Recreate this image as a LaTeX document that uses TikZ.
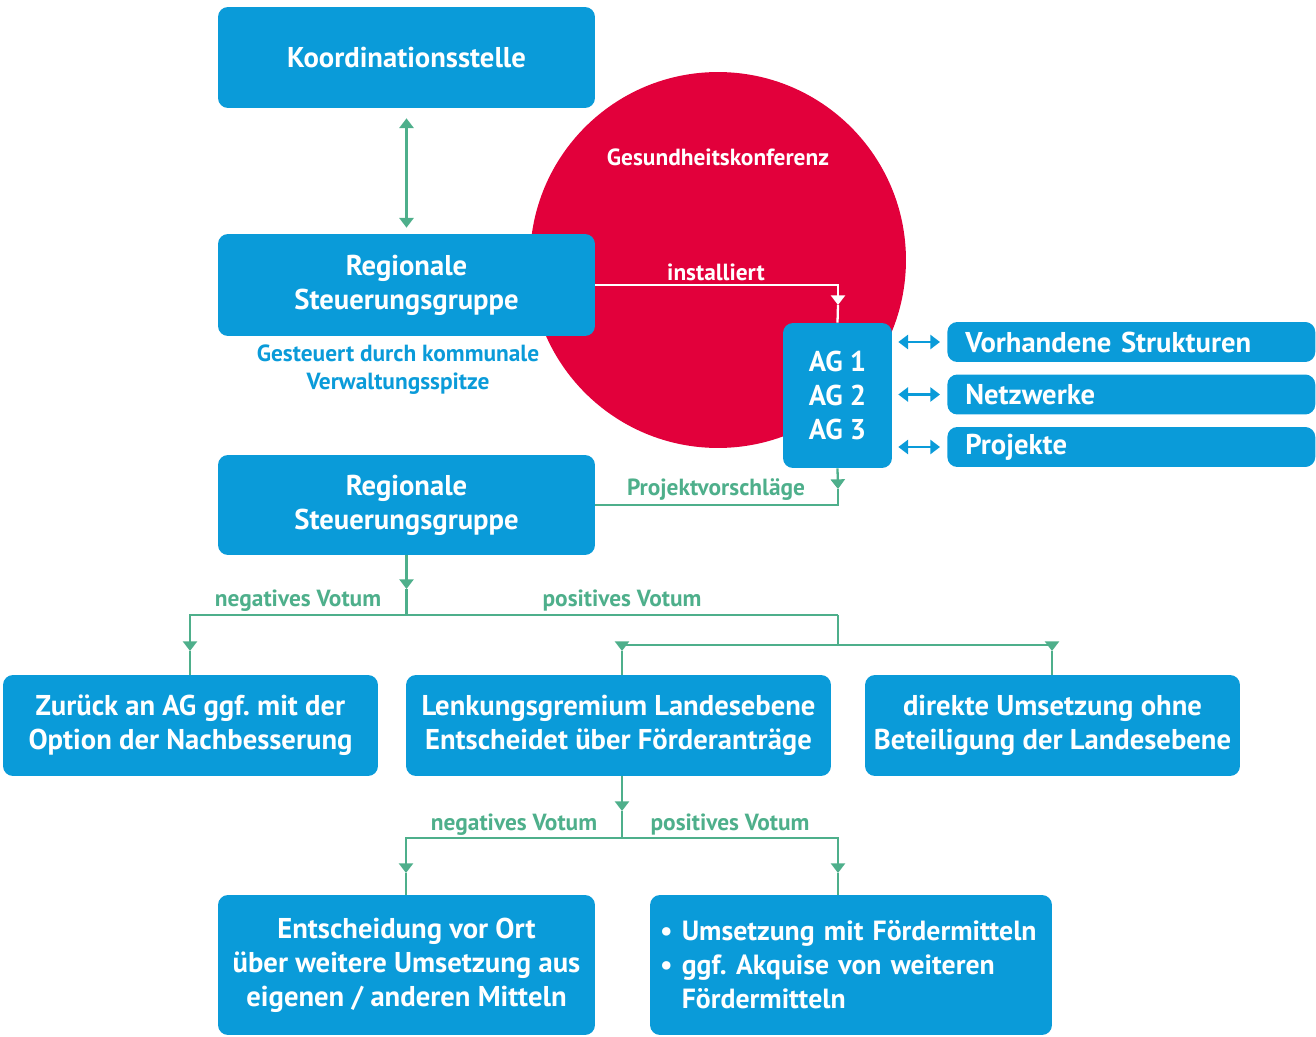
\documentclass[tikz,border=0pt]{standalone}
\usepackage{fontspec}
\setmainfont{PT Sans}
\frenchspacing
\usepackage{xcolor}
\usepackage{tikz}
\usetikzlibrary{arrows.meta, positioning, calc}

\definecolor{boxblue}{HTML}{0A9BD9}
\definecolor{konfred}{HTML}{E2003B}
\definecolor{flowgreen}{HTML}{4EAF8B}

\tikzset{
    box/.style={fill=boxblue, text=white, rounded corners=0.2cm, align=center,
        inner sep=0pt, font=\fontsize{16.3}{19.4}\selectfont\bfseries},
    sidebox/.style={box, anchor=west, align=left, inner xsep=0.36cm,
        text width=6.64cm, minimum height=0.8cm},
    flow/.style={draw=flowgreen, line width=1.3pt},
    tip/.style={-{Triangle[width=8pt, length=5.5pt]}},
    dtip/.style={{Triangle[width=8pt, length=5.5pt]}-{Triangle[width=8pt, length=5.5pt]}},
    lab/.style={text=flowgreen, font=\fontsize{13.3}{15}\selectfont\bfseries}
}

\begin{document}
\begin{tikzpicture}[x=0.02cm, y=-0.02cm]
    \useasboundingbox (0,0) rectangle (1316,1037);

    % Gesundheitskonferenz
    \fill[konfred] (718,260) circle (3.76cm);
    \node[text=white, font=\fontsize{13.3}{15}\selectfont\bfseries] (konf) at (718,157) {Gesundheitskonferenz};

    % obere Boxen
    \node[box, minimum width=7.54cm, minimum height=2.02cm] (koord) at (406.5,57.5) {Koordinationsstelle};
    \node[box, minimum width=7.54cm, minimum height=2.04cm] (rsg1) at (406.5,285) {Regionale\\Steuerungsgruppe};
    \node[text=boxblue, align=center, font=\fontsize{13.3}{15.8}\selectfont\bfseries] (verw) at (398,370)
        {Gesteuert durch kommunale\\Verwaltungsspitze};
    \node[box, minimum width=7.54cm, minimum height=2.0cm] (rsg2) at (406.5,505) {Regionale\\Steuerungsgruppe};

    % Arbeitsgruppen
    \node[box, minimum width=2.18cm, minimum height=2.9cm] (ag) at (837.5,395.5)
        {AG 1\\AG 2\\AG 3};
    \node[sidebox] (vs) at (947,342) {Vorhandene Strukturen};
    \node[sidebox] (nw) at (947,394.5) {Netzwerke};
    \node[sidebox] (pj) at (947,447) {Projekte};

    % Entscheidungen
    \node[box, minimum width=7.5cm, minimum height=2.02cm] (zur) at (190.5,725.5)
        {Zurück an AG ggf. mit der\\Option der Nachbesserung};
    \node[box, minimum width=8.5cm, minimum height=2.02cm] (lenk) at (618.5,725.5)
        {Lenkungsgremium Landesebene\\Entscheidet über Förderanträge};
    \node[box, minimum width=7.5cm, minimum height=2.02cm] (dir) at (1052.5,725.5)
        {direkte Umsetzung ohne\\Beteiligung der Landesebene};
    \node[box, minimum width=7.54cm, minimum height=2.8cm] (ort) at (406.5,965)
        {Entscheidung vor Ort\\über weitere Umsetzung aus\\eigenen / anderen Mitteln};
    \node[box, align=left, inner xsep=0.2cm, text width=7.64cm, minimum height=2.8cm,
        font=\fontsize{15.8}{19.4}\selectfont\bfseries] (mit) at (851,965)
        {\mbox{• Umsetzung mit Fördermitteln}\\\mbox{• ggf. Akquise von weiteren}\\\mbox{\phantom{• }Fördermitteln}};

    % Verbindungen
    \draw[flow, dtip, shorten <=0.2cm, shorten >=0.12cm] (koord.south) -- (rsg1.north);

    \coordinate (t1) at (838,305);
    \draw[draw=white, line width=1.3pt, tip] (rsg1.east) -| (t1);
    \draw[draw=white, line width=1.3pt] (t1) -- (ag.north);
    \node[text=white, font=\fontsize{13.3}{15}\selectfont\bfseries] (inst) at (716,272) {installiert};

    \draw[draw=boxblue, line width=1.3pt, dtip, shorten <=0.12cm, shorten >=0.14cm] (ag.east |- vs.west) -- (vs.west);
    \draw[draw=boxblue, line width=1.3pt, dtip, shorten <=0.12cm, shorten >=0.14cm] (ag.east |- nw.west) -- (nw.west);
    \draw[draw=boxblue, line width=1.3pt, dtip, shorten <=0.12cm, shorten >=0.14cm] (ag.east |- pj.west) -- (pj.west);

    \coordinate (t2) at (838,489);
    \draw[flow, tip] (ag.south) -- (t2);
    \draw[flow] (t2) |- (rsg2.east);
    \node[lab] (pv) at (716,490) {Projektvorschläge};

    % erste Verzweigung
    \coordinate (t3) at (406.5,589);
    \coordinate (s1) at (406.5,615);
    \draw[flow, tip] (rsg2.south) -- (t3);
    \draw[flow] (t3) -- (s1);
    \coordinate (t4) at (190,651);
    \coordinate (s2) at (838,615);
    \draw[flow, tip] (s1) -| (t4);
    \draw[flow] (t4) -- (zur.north -| t4);
    \draw[flow] (s1) -- (s2);
    \node[lab] (neg1) at (298,601) {negatives Votum};
    \node[lab] (pos1) at (622,601) {positives Votum};

    \coordinate (s3) at (838,645);
    \coordinate (t5) at (622,651);
    \coordinate (t6) at (1052,651);
    \draw[flow] (s2) -- (s3);
    \draw[flow, tip] (s3) -| (t5);
    \draw[flow, tip] (s3) -| (t6);
    \draw[flow] (t5) -- (lenk.north -| t5);
    \draw[flow] (t6) -- (dir.north -| t6);

    % zweite Verzweigung
    \coordinate (t7) at (622,811);
    \coordinate (s4) at (622,838);
    \draw[flow, tip] (lenk.south -| t7) -- (t7);
    \draw[flow] (t7) -- (s4);
    \coordinate (t8) at (406,873);
    \coordinate (t9) at (838,873);
    \draw[flow, tip] (s4) -| (t8);
    \draw[flow, tip] (s4) -| (t9);
    \draw[flow] (t8) -- (ort.north -| t8);
    \draw[flow] (t9) -- (mit.north -| t9);
    \node[lab] (neg2) at (514,825) {negatives Votum};
    \node[lab] (pos2) at (730,825) {positives Votum};
\end{tikzpicture}
\end{document}
